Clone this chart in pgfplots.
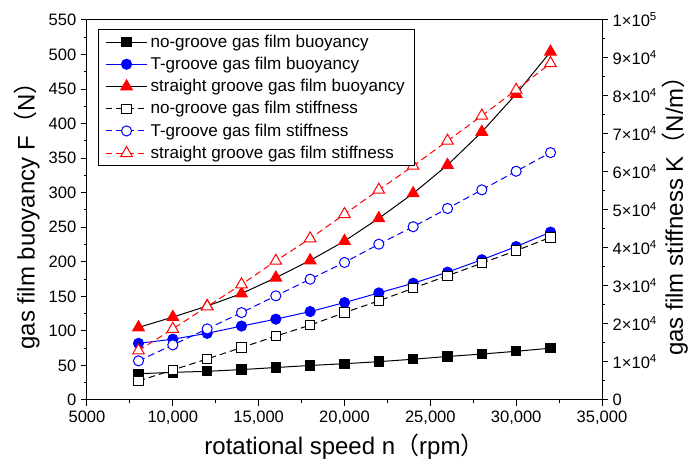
\documentclass[border=0pt]{standalone}
\usepackage{fontspec}
\setmainfont{Liberation Sans}
\newfontfamily\cjk{Noto Sans CJK SC}
\usepackage{pgfplots}
\usepackage{pgfplotstable}
\pgfplotsset{compat=1.18}

\pgfplotstableread{
n F
8000 38
10000 40
12000 41.5
14000 44
16000 47
18000 50
20000 52.5
22000 55.5
24000 59
26000 63
28000 66.5
30000 70.5
32000 75
}\noF
\pgfplotstableread{
n F
8000 82
10000 88
12000 96.5
14000 107
16000 117
18000 128
20000 141
22000 155
24000 169
26000 185
28000 203
30000 222
32000 243
}\tF
\pgfplotstableread{
n F
8000 105
10000 120
12000 136
14000 154
16000 177
18000 202
20000 230
22000 263
24000 299
26000 340
28000 388
30000 443
32000 504
}\sF
\pgfplotstableread{
n K
8000 5000
10000 7900
12000 10800
14000 13800
16000 16800
18000 19700
20000 23000
22000 26100
24000 29400
26000 32700
28000 36000
30000 39300
32000 42800
}\noK
\pgfplotstableread{
n K
8000 10300
10000 14500
12000 18700
14000 23000
16000 27400
18000 31800
20000 36200
22000 41000
24000 45600
26000 50400
28000 55300
30000 60200
32000 65100
}\tK
\pgfplotstableread{
n K
8000 13000
10000 18700
12000 24600
14000 30400
16000 36600
18000 42500
20000 48900
22000 55300
24000 61600
26000 68200
28000 74800
30000 81600
32000 88600
}\sK

\begin{document}
\begin{tikzpicture}
\pgfplotsset{
  every axis/.append style={
    scale only axis, width=386.25pt, height=285pt,
    xmin=5000, xmax=35000,
    scaled x ticks=false, scaled y ticks=false,
    tick align=outside,
    major tick length=4.5pt, minor tick length=2.6pt,
    tick style={black, line width=0.75pt},
    axis line style={line width=0.75pt},
    tick label style={font=\fontsize{12.4}{14}\selectfont},
    label style={font=\fontsize{18}{21}\selectfont},
    /pgf/number format/assume math mode=true,
  },
  li/.style={legend image code/.code={\draw[mark repeat=2,mark phase=2] plot coordinates {(0cm,0cm)(0.55cm,0cm)(1.1cm,0cm)};}},
  dsh/.style={dash pattern=on 5pt off 3pt},
  sNo/.style={li, black, line width=0.75pt, mark=square*, mark size=3.5pt, mark options={solid, fill=black}},
  sT/.style={li, blue, line width=0.75pt, mark=*, mark size=3.8pt, mark options={solid, fill=blue}},
  sS/.style={li, black, line width=0.75pt, mark=triangle*, mark size=5pt, mark options={solid, red, fill=red}},
  kNo/.style={li, black, line width=0.75pt, dsh, mark=square*, mark size=3.5pt, mark options={solid, fill=white}},
  kT/.style={li, blue, line width=0.75pt, dsh, mark=*, mark size=3.8pt, mark options={solid, fill=white}},
  kS/.style={li, red, line width=0.75pt, dsh, mark=triangle*, mark size=5pt, mark options={solid, fill=white}},
}
\begin{axis}[name=ax1,
  ymin=0, ymax=550, ytick={0,50,...,550}, minor y tick num=1,
  xtick={5000,10000,...,35000}, minor x tick num=1,
  xticklabels={5000,{10,000},{15,000},{20,000},{25,000},{30,000},{35,000}},
  xtick pos=bottom, ytick pos=left,
  xlabel={rotational speed n{\cjk （}rpm{\cjk ）}},
  ylabel={gas film buoyancy F{\cjk （}N{\cjk ）}},
]
\addplot[sNo] table[x=n,y=F]{\noF};
\addplot[sT] table[x=n,y=F]{\tF};
\addplot[sS] table[x=n,y=F]{\sF};
\end{axis}
\begin{axis}[
  axis x line=none, axis y line*=right,
  ymin=0, ymax=100000, ytick={0,10000,...,100000}, minor y tick num=1,
  yticklabels={0,
    1×10\textsuperscript{4},2×10\textsuperscript{4},3×10\textsuperscript{4},4×10\textsuperscript{4},5×10\textsuperscript{4},
    6×10\textsuperscript{4},7×10\textsuperscript{4},8×10\textsuperscript{4},9×10\textsuperscript{4},1×10\textsuperscript{5}},
  ylabel={gas film stiffness K{\cjk （}N/m{\cjk ）}},
  ylabel shift=-3pt,
  legend cell align=left,
  legend style={at={(0,1)}, anchor=north west, xshift=8.25pt, yshift=-6.75pt,
    font=\fontsize{12.8}{14}\selectfont, draw=black, line width=0.75pt, row sep=1.9pt,
    inner xsep=5pt, inner ysep=2pt},
]
\addlegendimage{sNo}
\addlegendentry{no-groove gas film buoyancy}
\addlegendimage{sT}
\addlegendentry{T-groove gas film buoyancy}
\addlegendimage{sS}
\addlegendentry{straight groove gas film buoyancy}
\addplot[kNo] table[x=n,y=K]{\noK};
\addlegendentry{no-groove gas film stiffness}
\addplot[kT] table[x=n,y=K]{\tK};
\addlegendentry{T-groove gas film stiffness}
\addplot[kS] table[x=n,y=K]{\sK};
\addlegendentry{straight groove gas film stiffness}
\end{axis}
\pgfresetboundingbox
\path ([xshift=-65.25pt,yshift=-44.25pt]ax1.south west) rectangle ([xshift=65.25pt,yshift=15pt]ax1.north east);
\end{tikzpicture}
\end{document}
